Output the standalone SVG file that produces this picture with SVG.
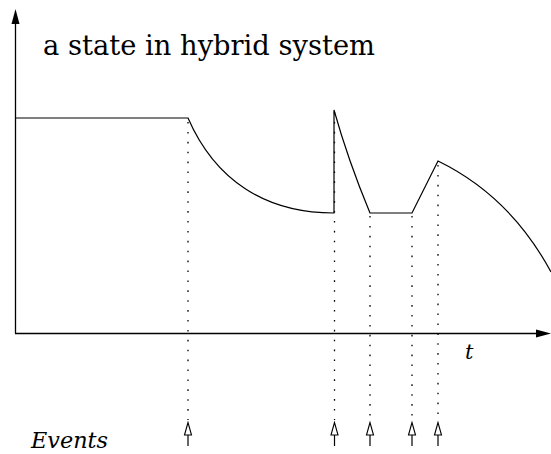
<svg xmlns="http://www.w3.org/2000/svg" width="551" height="454" viewBox="0 0 551 454">
<style>
.ax{stroke:#000;stroke-width:1.3;fill:none}
.cv{stroke:#000;stroke-width:1.2;fill:none}
.dot{stroke:#000;stroke-width:1.3;stroke-dasharray:1.6 8.3;fill:none}
.ev{stroke:#000;stroke-width:1.1;fill:#fff}
</style>
<rect width="551" height="454" fill="#fff"/>
<g id="axes">
<line class="ax" x1="15.5" y1="333.5" x2="15.5" y2="22"/>
<polygon points="15.5,9 11.5,24 19.5,24" fill="#000"/>
<line class="ax" x1="15" y1="333.5" x2="538" y2="333.5"/>
<polygon points="551,333.5 536,329.5 536,337.5" fill="#000"/>
</g>
<g id="state-curve">
<path class="cv" d="M15,118 L188,118 C215,180 265,213 334,213 L334,110 Q348,160 370,213 L412,213 L438,161 Q510,196 551,272"/>
</g>
<g id="connectors">
<line class="dot" x1="188" y1="122" x2="188" y2="420"/>
<line class="dot" x1="334.5" y1="112" x2="334.5" y2="420"/>
<line class="dot" x1="370" y1="216" x2="370" y2="420"/>
<line class="dot" x1="412" y1="216" x2="412" y2="420"/>
<line class="dot" x1="438" y1="165" x2="438" y2="420"/>
</g>
<g id="events">
<g id="ev1"><line class="cv" x1="188" y1="435" x2="188" y2="446"/><polygon class="ev" points="188,422.5 184.5,435 191.5,435"/></g>
<g id="ev2"><line class="cv" x1="334.5" y1="435" x2="334.5" y2="446"/><polygon class="ev" points="334.5,422.5 331,435 338,435"/></g>
<g id="ev3"><line class="cv" x1="370" y1="435" x2="370" y2="446"/><polygon class="ev" points="370,422.5 366.5,435 373.5,435"/></g>
<g id="ev4"><line class="cv" x1="412" y1="435" x2="412" y2="446"/><polygon class="ev" points="412,422.5 408.5,435 415.5,435"/></g>
<g id="ev5"><line class="cv" x1="438" y1="435" x2="438" y2="446"/><polygon class="ev" points="438,422.5 434.5,435 441.5,435"/></g>
</g>
<g id="labels" fill="#000" font-family="DejaVu Serif, serif">
<text x="43" y="55" font-size="27" textLength="332" lengthAdjust="spacingAndGlyphs">a state in hybrid system</text>
<text x="465" y="359" font-size="21" font-style="italic">t</text>
<text x="31" y="448" font-size="22" font-style="italic" textLength="77" lengthAdjust="spacingAndGlyphs">Events</text>
</g>
</svg>
